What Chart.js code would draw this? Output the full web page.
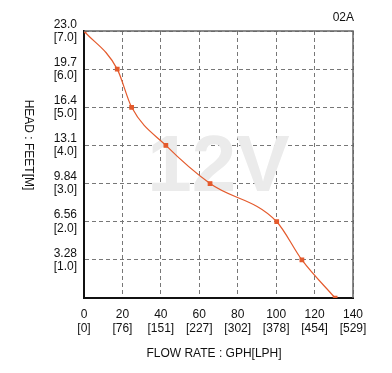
<!DOCTYPE html>
<html>
<head>
<meta charset="utf-8">
<script src="https://cdn.jsdelivr.net/npm/chart.js@4/dist/chart.umd.min.js"></script>
<style>
  body { margin: 0; background: #fff; }
  #wrap { width: 392px; height: 373px; }
</style>
</head>
<body>
<div id="wrap"><canvas id="pump-chart"></canvas></div>
<script>
// flow rate (GPH) and head (metres)
const flowGph = [0, 17.3, 24.8, 42.6, 65.6, 100.3, 113.4, 130.7];
const headM = [7, 6, 5, 4, 3, 2, 1, 0];

// tick labels
const gphTicks = [0, 20, 40, 60, 80, 100, 120, 140];
const lphTicks = ['0', '76', '151', '227', '302', '378', '454', '529'];
const feetTicks = ['', '3.28', '6.56', '9.84', '13.1', '16.4', '19.7', '23.0'];

const points = flowGph.map((x, i) => ({ x: x, y: headM[i] }));

Chart.defaults.font.family = '"Liberation Sans", Arial, sans-serif';
Chart.defaults.font.size = 12;
Chart.defaults.color = '#111';

// watermark + titles + top/right frame
const decor = {
  id: 'decor',
  beforeDatasetsDraw(chart) {
    const ctx = chart.ctx;
    const xs = chart.scales.x, ys = chart.scales.y;
    ctx.save();
    ctx.setTransform(1, 0, 0, 1, 0, 0);
    ctx.font = 'bold 80px "Liberation Sans", Arial, sans-serif';
    ctx.fillStyle = '#ebebeb';
    ctx.textAlign = 'center';
    ctx.textBaseline = 'alphabetic';
    ctx.direction = 'ltr';
    ctx.fillText('12V', xs.getPixelForValue(70), ys.getPixelForValue(2.8));
    ctx.restore();
  },
  afterDraw(chart) {
    const ctx = chart.ctx;
    const a = chart.chartArea;
    ctx.save();
    ctx.setTransform(1, 0, 0, 1, 0, 0);
    ctx.strokeStyle = '#666';
    ctx.lineWidth = 1.5;
    ctx.setLineDash([]);
    ctx.beginPath();
    ctx.moveTo(a.left, a.top);
    ctx.lineTo(a.right, a.top);
    ctx.lineTo(a.right, a.bottom);
    ctx.stroke();

    ctx.fillStyle = '#111';
    ctx.font = '12px "Liberation Sans", Arial, sans-serif';
    ctx.textBaseline = 'middle';
    ctx.textAlign = 'right';
    ctx.fillText('02A', a.right + 1, 18);

    ctx.textAlign = 'center';
    ctx.fillText('FLOW RATE : GPH[LPH]', 214, 354);

    ctx.translate(28, 145);
    ctx.rotate(Math.PI / 2);
    ctx.fillText('HEAD : FEET[M]', 0, 0);
    ctx.restore();
  }
};

new Chart('pump-chart', {
  type: 'line',
  data: {
    datasets: [{
      data: points,
      borderColor: '#e45a2c',
      backgroundColor: '#e45a2c',
      borderWidth: 1.2,
      pointStyle: 'rect',
      pointRadius: 2.5,
      cubicInterpolationMode: 'monotone',
      fill: false
    }]
  },
  options: {
    responsive: true,
    maintainAspectRatio: false,
    animation: false,
    layout: { padding: { top: 31, right: 39, left: 0, bottom: 0 } },
    plugins: {
      legend: { display: false },
      tooltip: { enabled: false }
    },
    scales: {
      x: {
        type: 'linear',
        min: 0,
        max: 140,
        afterFit(scale) { scale.height = 75; },
        afterBuildTicks(scale) { scale.ticks = gphTicks.map(v => ({ value: v })); },
        ticks: {
          padding: 9,
          font: { lineHeight: 1.2 },
          callback: (v) => [String(v), '[' + lphTicks[gphTicks.indexOf(v)] + ']']
        },
        grid: { color: '#777', lineWidth: 1, drawTicks: false },
        border: { color: '#111', width: 2, dash: [4, 3] }
      },
      y: {
        min: 0,
        max: 7,
        afterFit(scale) { scale.width = 84; },
        ticks: {
          stepSize: 1,
          padding: 7,
          font: { lineHeight: 1.1 },
          callback: (v) => v === 0 ? '' : [feetTicks[v], '[' + v.toFixed(1) + ']']
        },
        grid: { color: '#777', lineWidth: 1, drawTicks: false },
        border: { color: '#111', width: 2, dash: [4, 3] }
      }
    }
  },
  plugins: [decor]
});
</script>
</body>
</html>
